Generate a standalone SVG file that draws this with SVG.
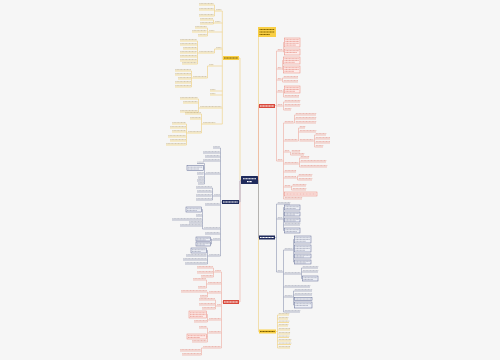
<svg xmlns="http://www.w3.org/2000/svg" xmlns:xlink="http://www.w3.org/1999/xlink" width="500" height="360" viewBox="0 0 500 360">
<style>
.c{fill:none;stroke-width:.6}
.cy{stroke:#efcf7c}.cr{stroke:#eeab9f}.cn{stroke:#8d95b2}
.u{fill:none;stroke-width:.5}
.uy{stroke:#f2c443}.ur{stroke:#e8897b}.un{stroke:#6c7699}
.t{fill:none;stroke-width:1;stroke-dasharray:1.1 .35;opacity:.55}
.ty{stroke:#b59f6c}.tr{stroke:#e07a6b}.tn{stroke:#8a90a6}
.bt{fill:none;stroke-width:.9;stroke-dasharray:1.1 .35;opacity:.65}
.br{fill:#fdecea;stroke:#e9867a;stroke-width:.5}
.bn{fill:#eef0f6;stroke:#5b6690;stroke-width:.5}
.mt{fill:none;stroke-width:1.1;stroke-dasharray:1.2 .3}
</style>
<defs>
<path id="ly" d="M216 11H221M215 23H220M209 32H214M216 49H221M209 66H213M210 91H215M210 95H215M200 108H221M203 124H215M199 5H213.5M199 10H213.5M199 16H213.5M200 20H212.5M200 24H212.5M195 28H206.5M192 32H206.5M198 36H206.5M199 53H213.5M180 41H196.5M180 45H196.5M183 49H196.5M180 53H196.5M180 57H196.5M180 61H196.5M182 64H196.5M193 78H206.5M175 71H190.5M175 75H190.5M178 79H190.5M175 83H190.5M175 87H190.5M180 99H197.5M183 103H197.5M180 112H197.5M185 114H200.5M190 119H200.5M188 133H200.5M172 124H185.5M170 128H185.5M172 132H185.5M168 137H185.5M170 141H185.5M166 145H185.5"/>
<path id="lr" d="M215 272H220.5M208 284H220.5M209 293H220.5M217 306H220.5M209 320H220.5M209 333H220.5M203 348H220.5M197 268H212.5M197 273H212.5M201 277H212.5M193 280H205.5M198 288H205.5M181 292H206.5M200 297H206.5M199 300H214.5M199 305H214.5M202 309H214.5M194 322H206.5M199 328H206.5M192 342H206.5M180 351H200.5M182 355H200.5"/>
<path id="ln" d="M213 148H219.5M203 153H219.5M205 157H219.5M203 161H219.5M206 174H219.5M214 196H219.5M205 205H219.5M204 229H219.5M205 234H219.5M213 240H219.5M209 256H219.5M197 163.5H203.5M197 174H203.5M198 178H203.5M197 181H203.5M198 184H203.5M196 188H211.5M197 192H211.5M196 196H211.5M196 200H211.5M196 216H201.5M172 220H201.5M189 223H201.5M180 226H201.5M186 256H206.5M183 260H206.5M185 264H206.5"/>
<path id="rr" d="M277.5 51H282M277.5 69H281M277.5 80H281M277.5 92H282M277.5 106H282M277.5 161H282M283.5 78H298M283.5 82H298M284.5 97H299M284.5 102H300M284.5 106H300M284.5 110H291M284.5 123H293M284.5 141H297M284.5 152H289M284.5 164H298M284.5 172H296M284.5 178H296M284.5 187H290M284.5 199H302M295.5 115H316M295.5 119H316M295.5 123H316M299.5 128H305M299.5 132H316M299.5 141H313M315.5 135H326M315.5 139H330M315.5 143H330M315.5 147H323M291.5 152H300M291.5 155H304M300.5 158H309M300.5 162H326M300.5 167H327M298.5 176H312M298.5 180H312M292.5 186H306M292.5 190H306"/>
<path id="rn" d="M277.5 204H290M277.5 219H282M277.5 272H282M284.5 225H300M284.5 250H292M284.5 274H300M284.5 287H310M284.5 297H292M284.5 312H300M302.5 268H318M302.5 272H318M294.5 291H312M294.5 295H312"/>
<path id="ry" d="M278.5 315H289M278.5 319H288M278.5 322.5H289M278.5 326H288M278.5 330H290M278.5 334H290M278.5 337.5H289M278.5 341H291M278.5 344.5H291M278.5 348H290"/>
</defs>
<rect width="500" height="360" fill="#f6f6f6"/>

<g id="connectors">
<path class="c cr" d="M241 181H240V302H239"/>
<path class="c cn" d="M241 180.5H240V202H239"/>
<path class="c cy" d="M241 180H240V58H239"/>
<path class="c cy" d="M258 180H258.5V32H258M258.5 180V331.5H259"/>
<path class="c cr" d="M258 180H258.5V105.5H259"/>
<path class="c cn" d="M258 180.5H258.5V237.5H259"/>
<path class="c cy" d="M223 58H222.3M222.3 11V124M222.3 11H221M222.3 23H220M222.3 32H214M222.3 49H221M222.3 66H213M222.3 91H215M222.3 95H215M222.3 108H221M222.3 124H215M216 11H214.5M214.5 5V16M214.5 5H213.5M214.5 10H213.5M214.5 16H213.5M215 23H213.5M213.5 20V24M213.5 20H212.5M213.5 24H212.5M209 32H207.5M207.5 28V36M207.5 28H206.5M207.5 36H206.5M216 49H214.5V53H213.5M199 53H197.5M197.5 41V64M197.5 41H196.5M197.5 45H196.5M197.5 49H196.5M197.5 57H196.5M197.5 61H196.5M197.5 64H196.5M209 66H207.5V78H206.5M193 78H191.5M191.5 71V87M191.5 71H190.5M191.5 75H190.5M191.5 79H190.5M191.5 83H190.5M191.5 87H190.5M200 108H198.5M198.5 99V112M198.5 99H197.5M198.5 103H197.5M198.5 112H197.5M203 124H201.5M201.5 114V133M201.5 114H200.5M201.5 119H200.5M201.5 133H200.5M188 133H186.5M186.5 124V145M186.5 124H185.5M186.5 128H185.5M186.5 132H185.5M186.5 137H185.5M186.5 141H185.5M186.5 145H185.5"/>
<path class="c cr" d="M223 302H221.5M221.5 272V348M221.5 272H220.5M221.5 284H220.5M221.5 293H220.5M221.5 306H220.5M221.5 320H220.5M221.5 333H220.5M221.5 348H220.5M215 272H213.5M213.5 268V277M213.5 268H212.5M213.5 273H212.5M213.5 277H212.5M208 284H206.5M206.5 280V288M206.5 280H205.5M206.5 288H205.5M209 293H207.5M207.5 292V297M207.5 292H206.5M207.5 297H206.5M217 306H215.5M215.5 300V309M215.5 300H214.5M215.5 305H214.5M215.5 309H214.5M209 320H207.5M207.5 314.5V322M207.5 314.5H206.5M207.5 322H206.5M209 333H207.5M207.5 328V342M207.5 328H206.5M207.5 336.5H206.5M207.5 342H206.5M203 348H201.5M201.5 348V355M201.5 351H200.5M201.5 355H200.5"/>
<path class="c cn" d="M222 202H220.5M220.5 148V256M220.5 148H219.5M220.5 153H219.5M220.5 157H219.5M220.5 161H219.5M220.5 174H219.5M220.5 196H219.5M220.5 205H219.5M220.5 229H219.5M220.5 234H219.5M220.5 240H219.5M220.5 256H219.5M206 174H204.5M204.5 163.5V184M204.5 163.5H203.5M204.5 168H203.5M204.5 178H203.5M204.5 181H203.5M204.5 184H203.5M214 196H212.5M212.5 188V200M212.5 188H211.5M212.5 192H211.5M212.5 200H211.5M204 229H202.5M202.5 209.5V229M202.5 209.5H201.5M202.5 216H201.5M202.5 220H201.5M202.5 223H201.5M202.5 226H201.5M213 240H211.5M211.5 239V244M211.5 239H210.5M211.5 244H210.5M209 256H207.5M207.5 250.5V264M207.5 250.5H206.5M207.5 260H206.5M207.5 264H206.5"/>
<path class="c cr" d="M275 105.5H276.5M276.5 51V161M276.5 51H277.5M276.5 69H277.5M276.5 80H277.5M276.5 92H277.5M276.5 106H277.5M276.5 161H277.5M282 51H283.5M283.5 42.5V52M283.5 42.5H284.5M283.5 52H284.5M281 69H282.5M282.5 60.5V69.5M282.5 60.5H283.5M282.5 69.5H283.5M281 80H282.5M282.5 78V82M282.5 78H283.5M282.5 82H283.5M282 92H283.5M283.5 89.5V97M283.5 89.5H284.5M283.5 97H284.5M282 106H283.5M283.5 102V110M283.5 102H284.5M283.5 110H284.5M282 161H283.5M283.5 123V199M283.5 123H284.5M283.5 141H284.5M283.5 152H284.5M283.5 164H284.5M283.5 172H284.5M283.5 178H284.5M283.5 187H284.5M283.5 194H284.5M283.5 199H284.5M293 123H294.5M294.5 115V123M294.5 115H295.5M294.5 119H295.5M297 141H298.5M298.5 128V141M298.5 128H299.5M298.5 132H299.5M313 141H314.5M314.5 135V147M314.5 135H315.5M314.5 139H315.5M314.5 143H315.5M314.5 147H315.5M289 152H290.5M290.5 152V155H291.5M298 164H299.5M299.5 158V167M299.5 158H300.5M299.5 162H300.5M299.5 167H300.5M296 178H297.5M297.5 176V180M297.5 176H298.5M297.5 180H298.5M290 187H291.5M291.5 186V190M291.5 186H292.5M291.5 190H292.5"/>
<path class="c cn" d="M275 237.5H276.5M276.5 204V272M276.5 204H277.5M276.5 219H277.5M276.5 272H277.5M282 219H283.5M283.5 207.5V230.5M283.5 207.5H284.5M283.5 214H284.5M283.5 220H284.5M283.5 225H284.5M283.5 230.5H284.5M282 272H283.5M283.5 250V312M283.5 250H284.5M283.5 274H284.5M283.5 287H284.5M283.5 297H284.5M283.5 312H284.5M292 250H293.5M293.5 239.5V262M293.5 239.5H294.5M293.5 248.5H294.5M293.5 256H294.5M293.5 262H294.5M300 274H301.5M301.5 268V278.5M301.5 268H302.5M301.5 272H302.5M301.5 278.5H302.5M292 297H293.5M293.5 291V305M293.5 291H294.5M293.5 295H294.5M293.5 299H294.5M293.5 305H294.5"/>
<path class="c cy" d="M276 331.5H277.5M277.5 315V348M277.5 315H278.5M277.5 319H278.5M277.5 322.5H278.5M277.5 326H278.5M277.5 330H278.5M277.5 334H278.5M277.5 337.5H278.5M277.5 341H278.5M277.5 344.5H278.5M277.5 348H278.5"/>
</g>

<g id="leaves-left-yellow">
<use xlink:href="#ly" class="u uy"/>
<use xlink:href="#ly" class="t ty" transform="translate(0.3,-1.4)"/>
</g>
<g id="leaves-left-red">
<use xlink:href="#lr" class="u ur"/>
<use xlink:href="#lr" class="t tr" transform="translate(0.3,-1.4)"/>
<rect class="br" x="189" y="311" width="17.5" height="7"/>
<rect class="br" x="187" y="334" width="19.5" height="5"/>
<path class="bt tr" d="M190 312.8H205.5M190 314.6H205.5M190 316.4H203M188 335.7H205.5M188 337.5H200"/>
</g>
<g id="leaves-left-navy">
<use xlink:href="#ln" class="u un"/>
<use xlink:href="#ln" class="t tn" transform="translate(0.3,-1.4)"/>
<rect class="bn" x="187" y="165.5" width="16.5" height="5"/>
<rect class="bn" x="186" y="207" width="15.5" height="5"/>
<rect class="bn" x="196" y="237" width="14.5" height="4"/>
<rect class="bn" x="196" y="242" width="14.5" height="4"/>
<rect class="bn" x="191" y="248" width="15.5" height="5"/>
<path class="bt tn" d="M188 167.2H202.5M188 169H199M187 208.7H200.5M187 210.5H197M197 238.3H210M197 239.9H206M197 243.3H210M197 244.9H205M192 249.7H205.5M192 251.5H201"/>
</g>
<g id="leaves-right-red">
<use xlink:href="#rr" class="u ur"/>
<use xlink:href="#rr" class="t tr" transform="translate(0.3,-1.4)"/>
<rect class="br" x="284.5" y="38" width="15.5" height="9"/>
<rect class="br" x="284.5" y="49" width="15.5" height="6"/>
<rect class="br" x="283.5" y="57" width="16.5" height="7"/>
<rect class="br" x="283.5" y="66" width="16.5" height="7"/>
<rect class="br" x="284.5" y="86" width="15.5" height="7"/>
<rect class="br" x="284.5" y="192" width="32.5" height="4"/>
<path class="bt tr" d="M285.5 39.7H299M285.5 41.5H299M285.5 43.3H299M285.5 45.1H296M285.5 50.7H299M285.5 52.5H297M284.5 58.7H299M284.5 60.5H299M284.5 62.3H295M284.5 67.7H299M284.5 69.5H299M284.5 71.3H294M285.5 87.7H299M285.5 89.5H299M285.5 91.3H295M285.5 194H316"/>
</g>
<g id="leaves-right-navy">
<use xlink:href="#rn" class="u un"/>
<use xlink:href="#rn" class="t tn" transform="translate(0.3,-1.4)"/>
<rect class="bn" x="284.5" y="205" width="15.5" height="5"/>
<rect class="bn" x="284.5" y="212" width="15.5" height="4"/>
<rect class="bn" x="284.5" y="218" width="15.5" height="4"/>
<rect class="bn" x="284.5" y="228" width="15.5" height="5"/>
<rect class="bn" x="294.5" y="236" width="16.5" height="7"/>
<rect class="bn" x="294.5" y="245" width="16.5" height="7"/>
<rect class="bn" x="294.5" y="254" width="16.5" height="4"/>
<rect class="bn" x="294.5" y="260" width="16.5" height="4"/>
<rect class="bn" x="302.5" y="276" width="15.5" height="5"/>
<rect class="bn" x="294.5" y="297.5" width="17.5" height="3"/>
<rect class="bn" x="294.5" y="302" width="17.5" height="6"/>
<path class="bt tn" d="M285.5 206.7H299M285.5 208.5H296M285.5 213.3H299M285.5 214.9H295M285.5 219.3H299M285.5 220.9H296M285.5 229.7H299M285.5 231.5H297M295.5 237.7H310M295.5 239.5H310M295.5 241.3H306M295.5 246.7H310M295.5 248.5H310M295.5 250.3H305M295.5 255.3H310M295.5 256.9H304M295.5 261.3H310M295.5 262.9H306M303.5 277.7H317M303.5 279.5H313M295.5 299H311M295.5 303.7H311M295.5 305.5H308"/>
</g>
<g id="leaves-right-yellow">
<use xlink:href="#ry" class="u uy"/>
<use xlink:href="#ry" class="t ty" transform="translate(0.3,-1.4)"/>
</g>

<g id="main-left-yellow"><rect x="223" y="56" width="16" height="4" fill="#f9cf45"/><path class="mt" stroke="#7a5e00" d="M224 58H238"/></g>
<g id="main-left-navy"><rect x="222" y="200" width="17" height="4" fill="#1f2a5c"/><path class="mt" stroke="#ffffff" d="M223 202H238"/></g>
<g id="main-left-red"><rect x="223" y="300" width="16" height="4" fill="#d94a3d"/><path class="mt" stroke="#ffffff" d="M224 302H238"/></g>
<g id="top-right-yellow"><rect x="258" y="27" width="18" height="10" fill="#f9cf45"/><path class="mt" stroke="#8a6a00" d="M259.5 29.5H274.5M259.5 32H274.5M259.5 34.5H270"/></g>
<g id="main-right-red"><rect x="259" y="104" width="16" height="4" fill="#d94a3d"/><path class="mt" stroke="#ffffff" d="M260 106H274"/></g>
<g id="main-right-navy"><rect x="259" y="235.5" width="16" height="4" fill="#1f2a5c"/><path class="mt" stroke="#ffffff" d="M260 237.5H274"/></g>
<g id="main-right-yellow"><rect x="259" y="329.5" width="17" height="4" fill="#f9cf45"/><path class="mt" stroke="#7a5e00" d="M260 331.5H275"/></g>
<g id="center"><rect x="241" y="176" width="17" height="8" rx=".5" fill="#1f2a5c"/><path class="mt" stroke="#ffffff" d="M243 178.8H256M247 181.6H252"/></g>
</svg>
